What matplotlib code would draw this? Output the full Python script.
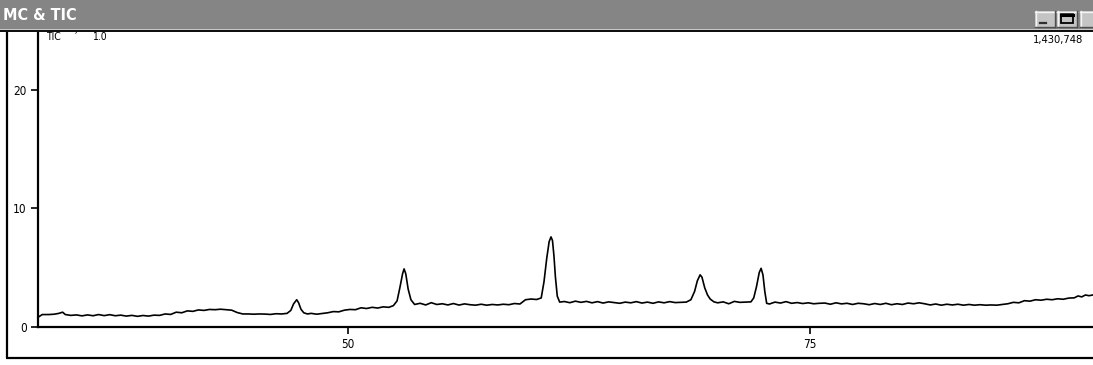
import matplotlib
matplotlib.use("Agg")
import matplotlib.pyplot as plt
from matplotlib.patches import Rectangle

# ---- data ----
time_min = [
    33.25, 33.45, 33.8, 34.1, 34.35, 34.55, 34.7, 35.0, 35.3, 35.6,
    35.9, 36.2, 36.5, 36.8, 37.1, 37.4, 37.7, 38.0, 38.3, 38.6,
    38.9, 39.2, 39.5, 39.8, 40.1, 40.4, 40.7, 41.0, 41.3, 41.6,
    41.9, 42.2, 42.5, 42.8, 43.1, 43.4, 43.7, 44.0, 44.3, 44.6,
    44.9, 45.2, 45.5, 45.8, 46.1, 46.4, 46.7, 46.9, 47.05, 47.22,
    47.32, 47.45, 47.6, 47.8, 48.0, 48.3, 48.6, 48.9, 49.2, 49.5,
    49.8, 50.1, 50.4, 50.7, 51.0, 51.3, 51.6, 51.9, 52.2, 52.45,
    52.65, 52.8, 52.95, 53.03, 53.12, 53.25, 53.4, 53.6, 53.9, 54.2,
    54.5, 54.8, 55.1, 55.4, 55.7, 56.0, 56.3, 56.6, 56.9, 57.2,
    57.5, 57.8, 58.1, 58.4, 58.7, 59.0, 59.3, 59.6, 59.9, 60.2,
    60.45, 60.6, 60.75, 60.88, 60.98, 61.06, 61.14, 61.22, 61.32, 61.45,
    61.7, 62.0, 62.3, 62.6, 62.9, 63.2, 63.5, 63.8, 64.1, 64.4,
    64.7, 65.0, 65.3, 65.6, 65.9, 66.2, 66.5, 66.8, 67.1, 67.4,
    67.7, 68.0, 68.3, 68.55, 68.75, 68.9, 69.05, 69.15, 69.3, 69.45,
    69.6, 69.8, 70.0, 70.3, 70.6, 70.9, 71.2, 71.5, 71.8, 71.95,
    72.1, 72.25, 72.35, 72.45, 72.55, 72.65, 72.8, 73.1, 73.4, 73.7,
    74.0, 74.3, 74.6, 74.9, 75.2, 75.5, 75.8, 76.1, 76.4, 76.7,
    77.0, 77.3, 77.6, 77.9, 78.2, 78.5, 78.8, 79.1, 79.4, 79.7,
    80.0, 80.3, 80.6, 80.9, 81.2, 81.5, 81.8, 82.1, 82.4, 82.7,
    83.0, 83.3, 83.6, 83.9, 84.2, 84.5, 84.8, 85.1, 85.4, 85.7,
    86.0, 86.3, 86.6, 86.9, 87.2, 87.5, 87.8, 88.1, 88.4, 88.7,
    89.0, 89.3, 89.5, 89.7, 89.9, 90.1, 90.35,
]
tic_abundance = [
    0.85, 1.05, 1.05, 1.08, 1.15, 1.25, 1.05, 0.98, 1.02, 0.94,
    1.02, 0.95, 1.05, 0.96, 1.04, 0.95, 1.00, 0.92, 0.98, 0.90,
    0.97, 0.92, 1.00, 0.98, 1.10, 1.06, 1.25, 1.20, 1.36, 1.32,
    1.44, 1.40, 1.48, 1.46, 1.50, 1.46, 1.42, 1.22, 1.10, 1.10,
    1.08, 1.10, 1.09, 1.06, 1.12, 1.10, 1.15, 1.40, 1.95, 2.30,
    2.05, 1.50, 1.20, 1.10, 1.15, 1.08, 1.14, 1.20, 1.30, 1.28,
    1.42, 1.48, 1.46, 1.62, 1.56, 1.66, 1.60, 1.70, 1.66, 1.80,
    2.20, 3.30, 4.50, 4.90, 4.50, 3.20, 2.30, 1.90, 2.00, 1.86,
    2.05, 1.90, 1.96, 1.86, 1.98, 1.85, 1.95, 1.88, 1.84, 1.92,
    1.84, 1.90, 1.86, 1.92, 1.88, 1.98, 1.94, 2.30, 2.36, 2.32,
    2.45, 3.80, 5.80, 7.20, 7.60, 7.30, 6.00, 4.20, 2.60, 2.10,
    2.15, 2.05, 2.18, 2.08, 2.16, 2.04, 2.14, 2.02, 2.12, 2.06,
    2.00, 2.10, 2.04, 2.14, 2.02, 2.10, 2.00, 2.12, 2.04, 2.14,
    2.06, 2.08, 2.10, 2.30, 3.00, 3.90, 4.40, 4.20, 3.30, 2.70,
    2.35, 2.12, 2.04, 2.12, 1.96, 2.16, 2.08, 2.10, 2.12, 2.45,
    3.40, 4.60, 4.95, 4.40, 3.00, 2.00, 1.94, 2.10, 2.02, 2.14,
    2.00, 2.06, 1.98, 2.04, 1.96, 2.00, 2.02, 1.92, 2.04, 1.95,
    2.00, 1.90, 2.00, 1.96, 1.88, 1.98, 1.90, 2.00, 1.88, 1.96,
    1.90, 2.02, 1.96, 2.04, 1.96, 1.86, 1.94, 1.84, 1.92, 1.86,
    1.92, 1.84, 1.90, 1.84, 1.88, 1.84, 1.86, 1.84, 1.90, 1.96,
    2.08, 2.04, 2.22, 2.18, 2.30, 2.26, 2.34, 2.30, 2.38, 2.34,
    2.44, 2.46, 2.62, 2.54, 2.70, 2.64, 2.72,
]
y_ticks = [0, 10, 20]
x_ticks = [50, 75]
window_title = "MC & TIC"
trace_name = "TIC"
trace_mark = "\u2032"
trace_scale = "1.0"
max_intensity_label = "1,430,748"

FONT = ["DejaVu Sans"]

W, H = 1093, 365
fig = plt.figure(figsize=(W / 100, H / 100), dpi=100)
fig.patch.set_facecolor("white")

# ---- window decoration, drawn in pixel coordinates ----
bg = fig.add_axes([0, 0, 1, 1], zorder=0)
bg.set_xlim(0, W)
bg.set_ylim(H, 0)
bg.axis("off")
bg.add_patch(Rectangle((0, 0), W, 29, facecolor="#858585", edgecolor="none"))
bg.add_patch(Rectangle((0, 29), W, 1, facecolor="#c8c8c8", edgecolor="none"))
bg.add_patch(Rectangle((0, 30), W, 2, facecolor="#101010", edgecolor="none"))
bg.plot([6.5, 6.5], [32, 358], color="black", lw=1.6, solid_capstyle="butt")
bg.plot([6, W], [358, 358], color="black", lw=1.6, solid_capstyle="butt")
bg.text(3, 15, window_title, color="white", fontsize=11.5, fontweight="bold",
        fontstretch="condensed", va="center", ha="left", family=FONT)
# title bar buttons
for x0 in (1035, 1057, 1080):
    bg.add_patch(Rectangle((x0, 11), 20, 16, facecolor="#c4c4c4",
                           edgecolor="none"))
    bg.plot([x0, x0 + 20], [11.5, 11.5], color="#f4f4f4", lw=1)
    bg.plot([x0 + 0.5, x0 + 0.5], [11, 27], color="#f4f4f4", lw=1)
    bg.plot([x0, x0 + 20], [26.5, 26.5], color="#505050", lw=1)
    bg.plot([x0 + 19.5, x0 + 19.5], [11, 27], color="#505050", lw=1)
bg.plot([1040, 1046], [22.5, 22.5], color="#303030", lw=1.6)
bg.add_patch(Rectangle((1061, 14), 12, 9, facecolor="none",
                       edgecolor="black", lw=1.3))
bg.plot([1061, 1073], [14.5, 14.5], color="black", lw=2.2)

# ---- chromatogram axes ----
ax = fig.add_axes([38 / W, 1 - 327 / H, 1 - 38 / W, (327 - 33) / H], zorder=1)
ax.set_facecolor("white")
ax.plot(time_min, tic_abundance, color="black", lw=1.2)
ax.set_xlim(33.22, 90.31)
ax.set_ylim(0, 24.8)
ax.set_xticks(x_ticks)
ax.set_yticks(y_ticks)
ax.set_xticklabels([str(v) for v in x_ticks], family=FONT, fontsize=8.5,
                   fontstretch="condensed")
ax.set_yticklabels([str(v) for v in y_ticks], family=FONT, fontsize=8.5,
                   fontstretch="condensed")
ax.tick_params(direction="out", length=5, width=1.2, pad=3, colors="black")
for s in ("top", "right"):
    ax.spines[s].set_visible(False)
for s in ("left", "bottom"):
    ax.spines[s].set_linewidth(1.6)
    ax.spines[s].set_color("black")

bg.text(46, 37, trace_name, fontsize=7.5, va="center", ha="left",
        family=FONT, fontstretch="condensed", zorder=5)
bg.text(76, 37, trace_mark, fontsize=7.5, va="center", ha="center",
        family=FONT, zorder=5)
bg.text(92, 37, trace_scale, fontsize=7.5, va="center", ha="left",
        family=FONT, fontstretch="condensed", zorder=5)
bg.text(1083, 40.5, max_intensity_label, fontsize=8, va="center", ha="right",
        family=FONT, fontstretch="condensed", zorder=5)
bg.set_zorder(2)
bg.patch.set_alpha(0)

fig.savefig("out.png", dpi=100, facecolor="white")
